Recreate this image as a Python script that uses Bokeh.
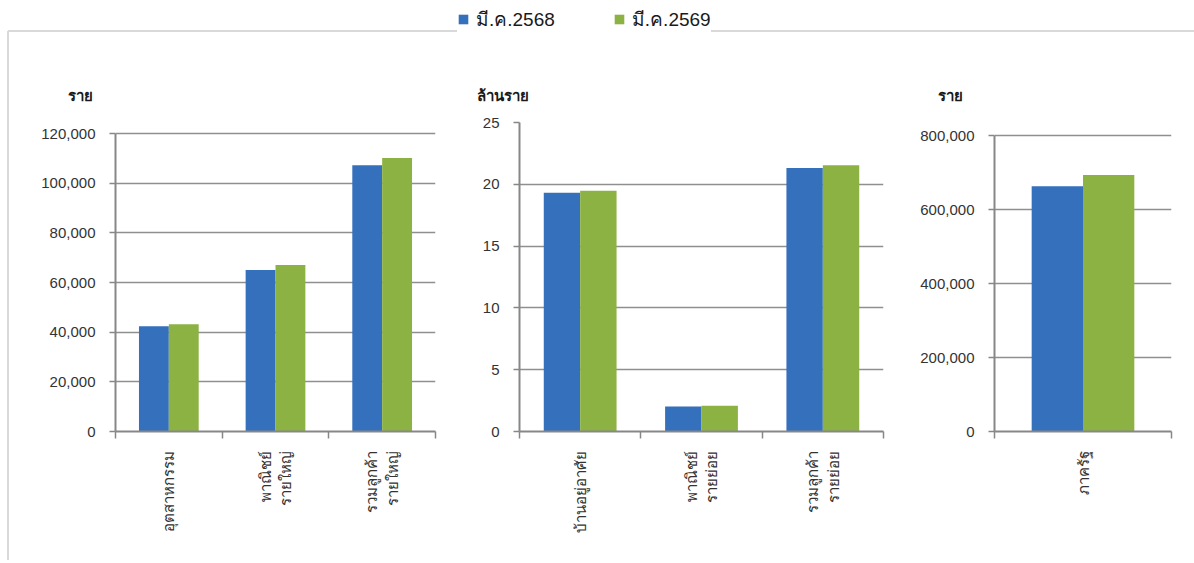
import math
from bokeh.plotting import figure
from bokeh.models import (ColumnDataSource, Range1d, FixedTicker, NumeralTickFormatter,
                          Legend, LegendItem, Div)
from bokeh.layouts import row, column
from bokeh.transform import dodge
from bokeh.embed import file_html
from bokeh.resources import INLINE

# ---------------- data ----------------
series_names = ["มี.ค.2568", "มี.ค.2569"]

cats_large = ["อุตสาหกรรม", "พาณิชย์\nรายใหญ่", "รวมลูกค้า\nรายใหญ่"]
large_2568 = [42400, 65000, 107200]
large_2569 = [43200, 67000, 110100]

cats_retail = ["บ้านอยู่อาศัย", "พาณิชย์\nรายย่อย", "รวมลูกค้า\nรายย่อย"]
retail_2568 = [19.31, 2.02, 21.31]
retail_2569 = [19.47, 2.08, 21.55]

cats_gov = ["ภาครัฐ"]
gov_2568 = [663000]
gov_2569 = [693500]

units = ["ราย", "ล้านราย", "ราย"]

# ---------------- style ----------------
BLUE = "#3570BC"
GREEN = "#8CB244"
AXIS = "#878787"
GRID = "#8f8f8f"
FONT = "Liberation Sans"
TXT = "#333333"
TOP_H = 40
FIG_H = 520
MB_TOP = 82      # common frame top
MB_BOTTOM = 129  # common frame bottom
FRAME_H = FIG_H - MB_TOP - MB_BOTTOM


def panel(cats, a, b, ymax, step, axis_px, width, mb_left, mb_right, bar_w, unit,
          title_offset):
    n = len(cats)
    ticks = [step * k for k in range(int(round(ymax / step)) + 1)]
    src = ColumnDataSource(dict(x=[i + 0.5 for i in range(n)], a=a, b=b))
    p = figure(width=width, height=FIG_H, toolbar_location=None, output_backend="svg",
               x_range=Range1d(0, n), y_range=Range1d(0, ymax * FRAME_H / axis_px),
               min_border_left=mb_left, min_border_right=mb_right,
               min_border_top=MB_TOP, min_border_bottom=MB_BOTTOM)
    p.vbar(x=dodge("x", -bar_w / 2, range=p.x_range), top="a", width=bar_w, source=src,
           fill_color=BLUE, line_color=None)
    p.vbar(x=dodge("x", bar_w / 2, range=p.x_range), top="b", width=bar_w, source=src,
           fill_color=GREEN, line_color=None)
    p.outline_line_color = None
    p.xgrid.visible = False
    p.ygrid.grid_line_color = GRID
    p.ygrid.grid_line_width = 1.5
    p.ygrid.ticker = FixedTicker(ticks=ticks)

    ya = p.yaxis[0]
    ya.ticker = FixedTicker(ticks=ticks)
    ya.bounds = (0, ymax)
    ya.formatter = NumeralTickFormatter(format="0,0")
    ya.axis_line_color = AXIS
    ya.axis_line_width = 2
    ya.major_tick_line_color = AXIS
    ya.major_tick_line_width = 1.5
    ya.major_tick_out = 6
    ya.major_tick_in = 0
    ya.minor_tick_line_color = None
    ya.major_label_standoff = 14
    ya.major_label_text_font = FONT
    ya.major_label_text_font_size = "15px"
    ya.major_label_text_color = TXT

    xa = p.xaxis[0]
    centers = [i + 0.5 for i in range(n)]
    xa.ticker = FixedTicker(ticks=centers, minor_ticks=list(range(n + 1)))
    xa.major_label_overrides = {c: lab for c, lab in zip(centers, cats)}
    xa.major_label_orientation = math.pi / 2
    xa.axis_line_color = AXIS
    xa.axis_line_width = 2
    xa.major_tick_line_color = None
    xa.minor_tick_line_color = AXIS
    xa.minor_tick_line_width = 1.5
    xa.minor_tick_out = 7
    xa.minor_tick_in = 0
    xa.major_label_standoff = 12
    xa.major_label_text_font = FONT
    xa.major_label_text_font_size = "15px"
    xa.major_label_text_color = TXT

    p.title.text = unit
    p.title.align = "left"
    p.title.offset = title_offset
    p.title.standoff = 38
    p.title.text_font = FONT
    p.title.text_font_size = "15px"
    p.title.text_font_style = "bold"
    p.title.text_color = "#1a1a1a"
    return p


f1 = panel(cats_large, large_2568, large_2569, 120000, 20000, 298, 451, 106, 25,
           0.28, units[0], -48)
f2 = panel(cats_retail, retail_2568, retail_2569, 25, 5, 309, 440, 59, 17,
           0.30, units[1], -43)
f3 = panel(cats_gov, gov_2568, gov_2569, 800000, 200000, 296, 294, 94, 23,
           0.29, units[2], -57)

# left border strip of the chart box
border = Div(text="", width=9, height=FIG_H, margin=0,
             styles={"border-right": "2px solid #d9d9d9", "box-sizing": "border-box",
                     "padding": "0px"})

# top strip with legend and frame border
top = figure(width=1194, height=TOP_H, toolbar_location=None, output_backend="svg",
             x_range=Range1d(0, 1194), y_range=Range1d(0, TOP_H), x_axis_type=None,
             y_axis_type=None, min_border=0)
top.outline_line_color = None
top.grid.visible = False
top.line(x=[7.5, 1194], y=[9.5, 9.5], line_color="#d9d9d9", line_width=2)
top.line(x=[7.5, 7.5], y=[0, 9.5], line_color="#d9d9d9", line_width=2)
nan = float("nan")
dummy = ColumnDataSource(dict(l=[nan], r=[nan], b=[nan], t=[nan]))
ra = top.quad(left="l", right="r", bottom="b", top="t", source=dummy,
              fill_color=BLUE, line_color=None)
rb = top.quad(left="l", right="r", bottom="b", top="t", source=dummy,
              fill_color=GREEN, line_color=None)
leg = Legend(items=[LegendItem(label=series_names[0], renderers=[ra]),
                    LegendItem(label=series_names[1], renderers=[rb])],
             orientation="horizontal", location=(457, 6), margin=0, padding=3,
             spacing=58, label_standoff=7, glyph_width=12, glyph_height=12,
             label_text_font=FONT, label_text_font_size="19px",
             label_text_color="#1a1a1a", border_line_color=None,
             background_fill_color="white", background_fill_alpha=1.0)
top.add_layout(leg, "center")

layout = column(top, row(border, f1, f2, f3))
open("out.html", "w").write(file_html(layout, INLINE))
